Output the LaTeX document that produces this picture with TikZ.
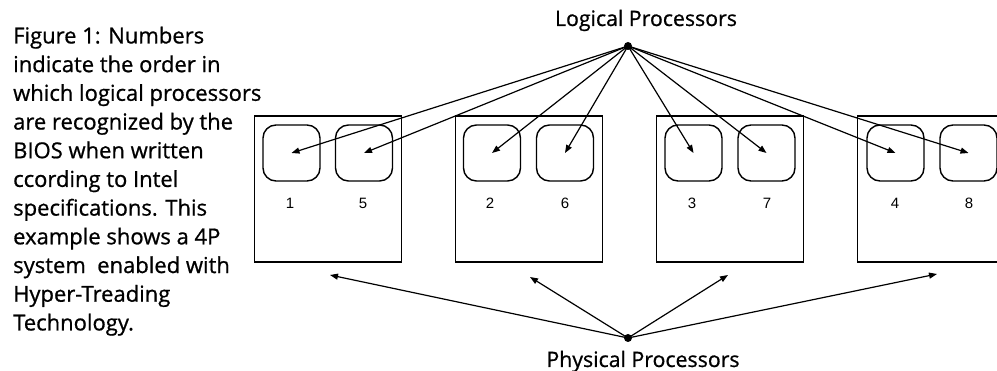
\documentclass[tikz,border=0pt]{standalone}
\usepackage{fontspec}
\setmainfont{Open Sans}[FakeBold=0.8]
\newfontfamily\numfont{Liberation Sans}
\usetikzlibrary{arrows.meta}
\tikzset{
  pbox/.style={draw, line width=1.5pt, minimum width=147pt, minimum height=146pt, inner sep=0pt},
  lbox/.style={draw, line width=1.4pt, rounded corners=13pt, minimum width=57pt, minimum height=56pt, inner sep=0pt},
  num/.style={font=\numfont\fontsize{15}{17}\selectfont, inner sep=0pt},
  hub/.style={circle, fill=black, minimum size=8pt, inner sep=0pt},
  conn/.style={line width=1.2pt, -{Triangle[length=8pt,width=6pt]}},
  title/.style={font=\fontsize{21.3}{24}\selectfont, inner sep=0pt, anchor=base}
}
\begin{document}
\begin{tikzpicture}[x=1pt,y=-1pt]
\useasboundingbox (0,0) rectangle (997,371);
\clip (0,0) rectangle (997,371);
\fill[white] (0,0) rectangle (997,371);
% caption
\node[anchor=north west, inner sep=0pt, align=left, font=\fontsize{22}{28.7}\selectfont] (cap) at (13,26.5)
 {Figure 1: Numbers\\indicate the order in\\which logical processors\\are recognized by the\\BIOS when written\\ccording to Intel\\specifications. This\\example shows a 4P\\system\ \ enabled with\\Hyper-Treading\\Technology.};
% physical boxes
\node[pbox] (P1) at (328,189) {};
\node[pbox] (P2) at (529,189) {};
\node[pbox] (P3) at (730,189) {};
\node[pbox] (P4) at (931,189) {};
% logical boxes
\node[lbox] (L1) at (291.5,153) {};
\node[lbox] (L5) at (364,153) {};
\node[lbox] (L2) at (492,153) {};
\node[lbox] (L6) at (565,153) {};
\node[lbox] (L3) at (693.5,153) {};
\node[lbox] (L7) at (766.5,153) {};
\node[lbox] (L4) at (895.5,153) {};
\node[lbox] (L8) at (968.5,153) {};
% numbers
\node[num] (n1) at (290,203) {1};
\node[num] (n5) at (363,203) {5};
\node[num] (n2) at (490,203) {2};
\node[num] (n6) at (565,203) {6};
\node[num] (n3) at (692,203) {3};
\node[num] (n7) at (767,203) {7};
\node[num] (n4) at (895,203) {4};
\node[num] (n8) at (969,203) {8};
% hubs
\node[hub] (lp) at (628,46) {};
\node[hub] (pp) at (628,338) {};
\node[title] (lpt) at (646,26) {Logical Processors};
\node[title] (ppt) at (643,367) {Physical Processors};
% logical arrows
\foreach \t in {L1,L2,L3,L4,L5,L6,L7,L8}
  \draw[conn] (lp.center) -- (\t.center);
% physical arrows
\coordinate (t1) at (330,275);
\coordinate (t2) at (530,277);
\coordinate (t3) at (728,275);
\coordinate (t4) at (937,274);
\foreach \t in {t1,t2,t3,t4}
  \draw[conn] (pp.center) -- (\t);
\end{tikzpicture}
\end{document}
